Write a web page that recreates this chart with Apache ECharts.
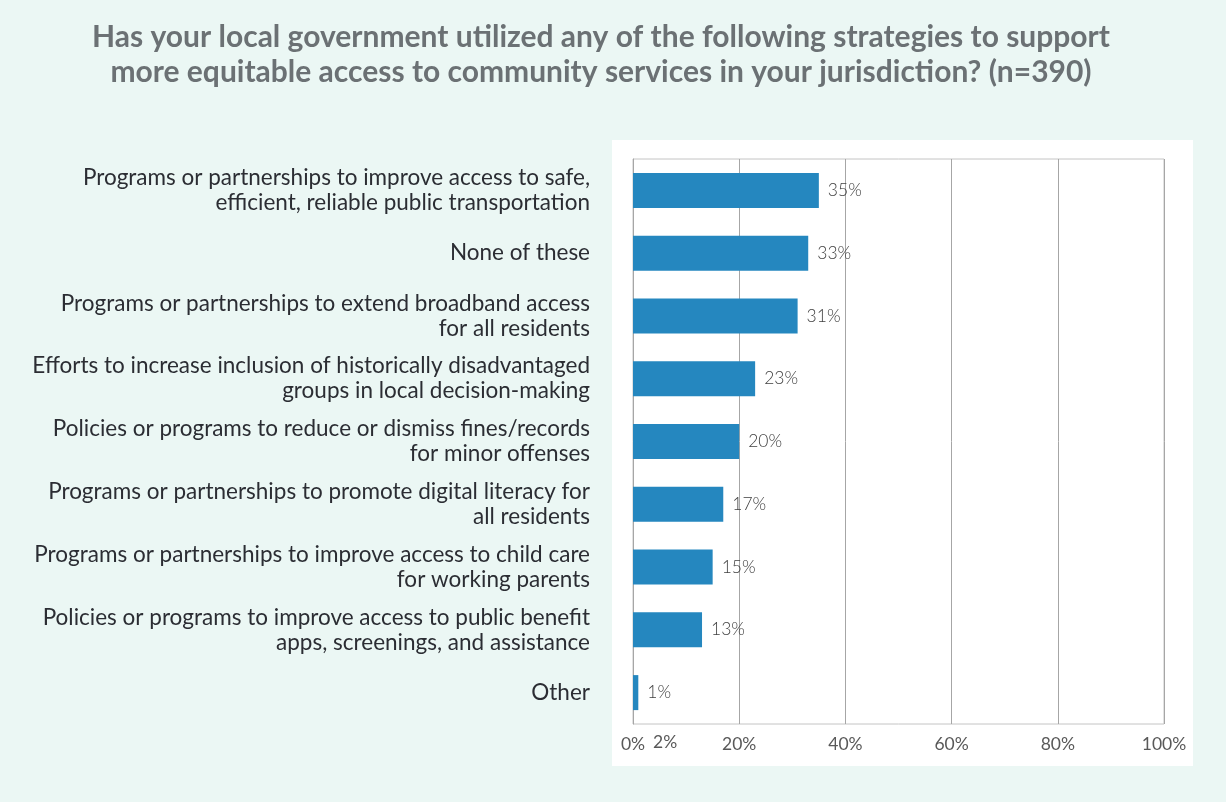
<!DOCTYPE html>
<html>
<head>
<meta charset="utf-8">
<style>
  html, body { margin: 0; padding: 0; background: #ebf7f4; }
  #chart { width: 1226px; height: 802px; }
</style>
</head>
<body>
<div id="chart"></div>
<script src="https://cdn.jsdelivr.net/npm/echarts@6/dist/echarts.min.js"></script>
<script>
// categories top to bottom
var strategies = [
  'Programs or partnerships to improve access to safe,\nefficient, reliable public transportation',
  'None of these',
  'Programs or partnerships to extend broadband access\nfor all residents',
  'Efforts to increase inclusion of historically disadvantaged\ngroups in local decision-making',
  'Policies or programs to reduce or dismiss fines/records\nfor minor offenses',
  'Programs or partnerships to promote digital literacy for\nall residents',
  'Programs or partnerships to improve access to child care\nfor working parents',
  'Policies or programs to improve access to public benefit\napps, screenings, and assistance',
  'Other'
];
var shares = [35, 33, 31, 23, 20, 17, 15, 13, 1];

var chart = echarts.init(document.getElementById('chart'));
chart.setOption({
  backgroundColor: '#ebf7f4',
  animation: false,
  title: {
    text: 'Has your local government utilized any of the following strategies to support\nmore equitable access to community services in your jurisdiction? (n=390)',
    left: 596,
    textAlign: 'center',
    top: 15,
    textStyle: {
      fontFamily: 'Lato',
      fontSize: 30,
      fontWeight: 'bold',
      color: '#6b7174',
      lineHeight: 35
    }
  },
  graphic: [
    {
      type: 'rect',
      z: -10,
      shape: { x: 612, y: 140, width: 581, height: 626 },
      style: { fill: '#ffffff' }
    },
    {
      // stray tick label that sits next to 0% in the original
      type: 'text',
      left: 653,
      top: 733,
      style: { text: '2%', font: '17.5px Lato', fill: '#595959' }
    }
  ],
  grid: {
    left: 633,
    right: 62,
    top: 159,
    bottom: 78,
    show: true,
    borderColor: '#c4c4c4',
    borderWidth: 1
  },
  xAxis: {
    type: 'value',
    min: 0,
    max: 100,
    interval: 20,
    axisLine: { show: false },
    axisTick: { show: false },
    splitLine: { lineStyle: { color: '#a6a6a6', width: 1 } },
    axisLabel: {
      formatter: '{value}%',
      fontFamily: 'Lato',
      fontSize: 17.5,
      color: '#595959',
      margin: 11
    }
  },
  yAxis: {
    type: 'category',
    data: strategies,
    inverse: true,
    axisLine: { show: true, lineStyle: { color: '#a6a6a6' } },
    axisTick: { show: false },
    axisLabel: {
      fontFamily: 'Lato',
      fontSize: 22.5,
      color: '#2b2d33',
      lineHeight: 25,
      padding: [6, 0, 0, 0],
      margin: 43,
      align: 'right'
    }
  },
  series: [{
    type: 'bar',
    data: shares,
    barWidth: 35,
    itemStyle: { color: '#2587bf' },
    label: {
      show: true,
      position: 'right',
      distance: 9,
      formatter: '{c}%',
      fontFamily: 'Lato',
      fontWeight: 300,
      fontSize: 17.5,
      color: '#404040'
    }
  }]
});
</script>
</body>
</html>
